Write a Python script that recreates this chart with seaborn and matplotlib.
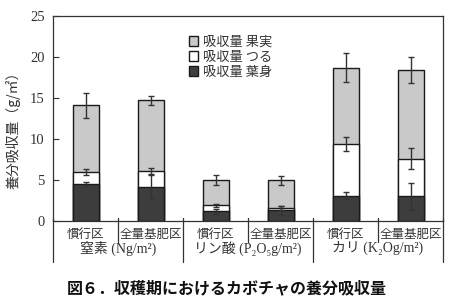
import matplotlib
matplotlib.use("Agg")
import matplotlib.pyplot as plt
import matplotlib.patches as mpatches
import matplotlib.transforms as mtransforms
import numpy as np
import pandas as pd
import seaborn as sns

# ---- data ----
groups = ["窒素 (Ng/m²)", "リン酸 (P₂O₅g/m²)", "カリ (K₂Og/m²)"]
treatments = ["慣行区", "全量基肥区"]
leaf = [4.5, 4.2, 1.2, 1.3, 3.1, 3.0]        # 吸収量 葉身
vine = [1.5, 1.9, 0.7, 0.3, 6.3, 4.6]        # 吸収量 つる
fruit = [8.1, 8.6, 3.1, 3.4, 9.3, 10.8]      # 吸収量 果実
leaf_err = [0.25, 1.4, 0.3, 0.55, 0.45, 1.6]
vine_err = [0.35, 0.35, 0.15, 0.2, 0.85, 1.3]
fruit_err = [1.55, 0.55, 0.6, 0.55, 1.8, 1.6]
yticks = [0, 5, 10, 15, 20, 25]

sns.set_theme(style="white")
JP = ["Noto Sans CJK JP", "DejaVu Sans"]
SERIF_JP = ["Liberation Serif", "Noto Sans CJK JP", "DejaVu Serif"]
plt.rcParams["font.family"] = JP

keys = [f"{g}-{t}" for g in groups for t in treatments]
leaf_top = np.array(leaf)
vine_top = leaf_top + np.array(vine)
total = vine_top + np.array(fruit)
df = pd.DataFrame({"key": keys, "leaf": leaf_top, "vine": vine_top, "total": total})

fig = plt.figure(figsize=(4.53, 3.07), dpi=100)
ax = fig.add_axes([0.117, 0.28, 0.861, 0.668])

common = dict(x="key", order=keys, width=0.4, edgecolor="#1a1a1a", linewidth=1.0, ax=ax)
sns.barplot(data=df, y="total", color="#c9c9c9", saturation=1, **common)
sns.barplot(data=df, y="vine", color="#ffffff", saturation=1, **common)
sns.barplot(data=df, y="leaf", color="#3d3d3d", saturation=1, **common)

xpos = np.arange(len(keys))
ekw = dict(fmt="none", ecolor="#333333", elinewidth=1.0, capsize=2.5, capthick=1.0, zorder=5)
ax.errorbar(xpos, total, yerr=fruit_err, **ekw)
ax.errorbar(xpos, vine_top, yerr=vine_err, **ekw)
ax.errorbar(xpos, leaf_top, yerr=leaf_err, **ekw)

ax.set_xlim(-0.5, len(keys) - 0.5)
ax.set_ylim(0, 25)
ax.set_yticks(yticks)
ax.set_yticklabels([str(v) for v in yticks], family=SERIF_JP, fontsize=10.5, color="#333333")
ax.tick_params(axis="y", direction="in", length=4, width=0.8, color="#333333", left=True, pad=6)
ax.set_xticks([])
ax.set_xlabel("")
ax.set_ylabel("養分吸収量（g/㎡）", fontsize=10, family=JP, color="#333333")
ax.yaxis.set_label_coords(-0.082, 0.46)
for s in ax.spines.values():
    s.set_visible(True)
    s.set_color("#333333")
    s.set_linewidth(0.9)

# category labels & separators
trans = mtransforms.blended_transform_factory(ax.transData, ax.transAxes)
for i, k in enumerate(keys):
    t = treatments[i % 2]
    ax.text(i, -0.063, t, transform=trans, ha="center", va="center",
            fontsize=9, family=JP, color="#333333")
for gi, g in enumerate(groups):
    ax.text(gi * 2 + 0.5, -0.132, g, transform=trans, ha="center", va="center",
            fontsize=10, family=SERIF_JP, color="#333333")
for xb in np.arange(-0.5, len(keys), 1.0):
    idx = int(xb + 0.5)
    low = -0.2 if idx % 2 == 0 else -0.1
    ax.plot([xb, xb], [0.015, low], transform=trans, color="#333333", lw=0.9, clip_on=False)

# legend
handles = [mpatches.Patch(facecolor="#c9c9c9", edgecolor="#1a1a1a", label="吸収量 果実"),
           mpatches.Patch(facecolor="#ffffff", edgecolor="#1a1a1a", label="吸収量 つる"),
           mpatches.Patch(facecolor="#3d3d3d", edgecolor="#1a1a1a", label="吸収量 葉身")]
leg = ax.legend(handles=handles, loc="upper left", bbox_to_anchor=(0.335, 0.93), frameon=False,
                handlelength=0.7, handleheight=0.7, handletextpad=0.4, labelspacing=0.15,
                prop={"family": JP, "size": 9.5}, borderaxespad=0)
for txt in leg.get_texts():
    txt.set_color("#333333")

fig.text(0.5, 0.062, "図６．収穫期におけるカボチャの養分吸収量", ha="center", va="center",
         fontsize=11.5, fontweight="bold", family=JP, color="#111111")

fig.savefig("out.png", dpi=100)
